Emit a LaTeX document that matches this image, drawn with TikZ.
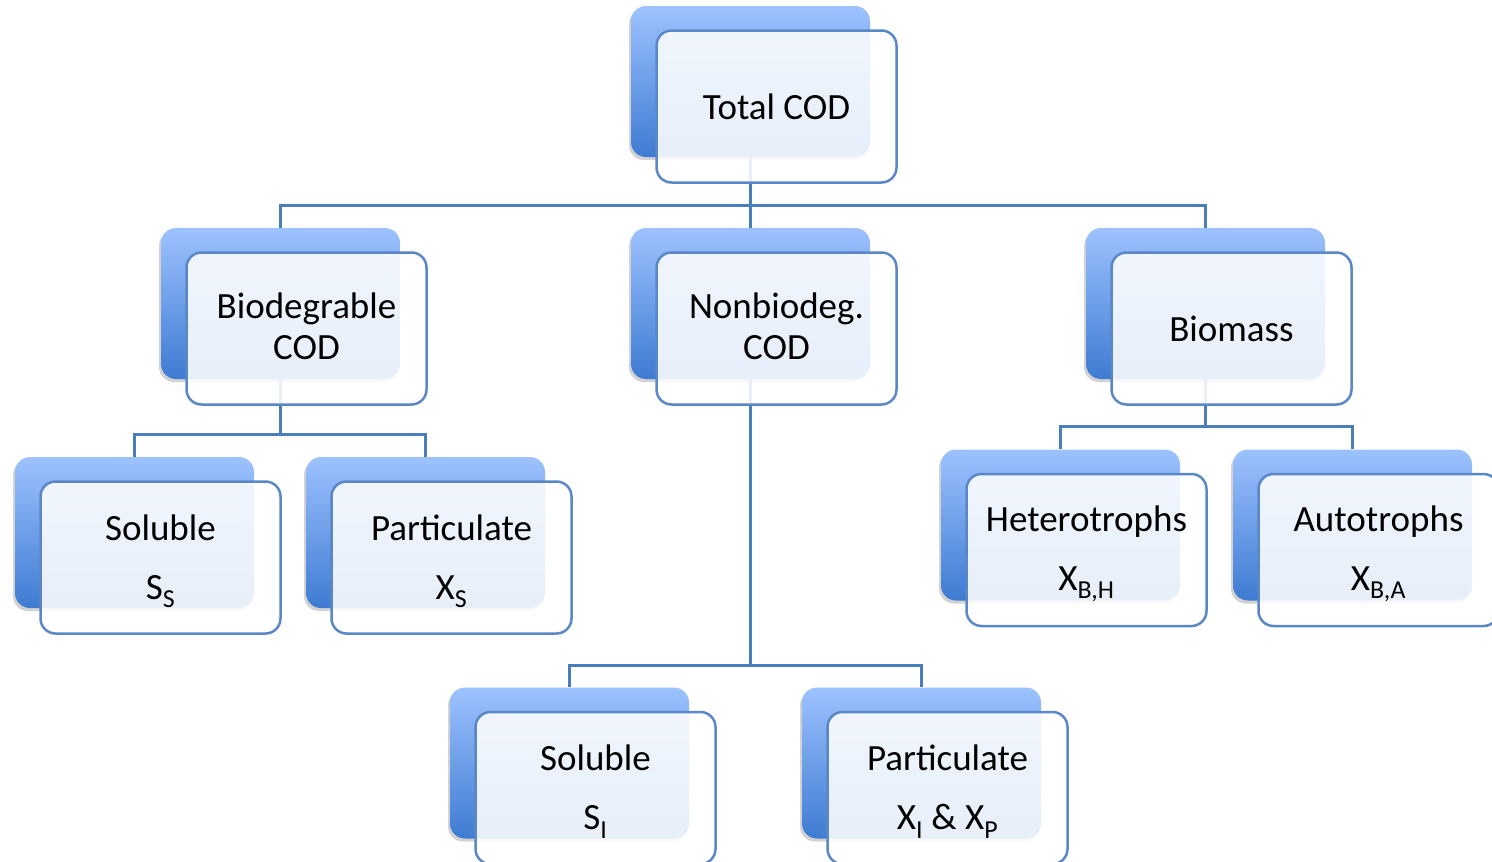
\documentclass[tikz,border=0pt]{standalone}
\usepackage{fontspec}
\setmainfont{Carlito}
\usetikzlibrary{shadows,backgrounds}
\definecolor{linec}{HTML}{4A7EBB}
\definecolor{framec}{HTML}{5A87C5}
\definecolor{backtop}{HTML}{9DC2FF}
\definecolor{backbot}{HTML}{3E7BD2}
\newcommand{\upstrut}{\rule{0pt}{33pt}}
\newcommand{\downstrut}{\rule[-4pt]{0pt}{4pt}}
\tikzset{
  backbox/.style={rectangle, rounded corners=15pt, minimum width=239pt, minimum height=151pt,
    inner sep=0pt, top color=backtop, bottom color=backbot, draw=none,
    drop shadow={shadow xshift=-2pt, shadow yshift=-3pt, opacity=0.25, fill=black!70}},
  frontbox/.style={rectangle, rounded corners=15pt, minimum width=240pt, minimum height=152pt,
    inner sep=0pt, draw=framec, line width=2.5pt, fill=white, fill opacity=0.88, text opacity=1,
    align=center, font=\fontsize{37}{41}\selectfont},
  conn/.style={draw=linec, line width=2.6pt}
}
\begin{document}
\begin{tikzpicture}[x=1pt,y=-1pt]
\useasboundingbox (0,0) rectangle (1492,862);
% back boxes
\node[backbox] (totb) at (750.5,81.5) {};
\node[backbox] (biob) at (280.5,303.5) {};
\node[backbox] (nonb) at (750.5,303.5) {};
\node[backbox] (bmb) at (1205.5,303.5) {};
\node[backbox] (sol1b) at (134.5,532.5) {};
\node[backbox] (par1b) at (425.5,532.5) {};
\node[backbox] (hetb) at (1060.5,525) {};
\node[backbox] (autb) at (1352.5,525) {};
\node[backbox] (sol2b) at (569.5,763) {};
\node[backbox] (par2b) at (921.5,763) {};
% connectors (behind the front boxes)
\draw[conn] (totb.south) -- ++(0,48) coordinate (hub) -| (biob.north);
\draw[conn] (hub) -| (bmb.north);
\draw[conn] (hub) -- (nonb.north);
\draw[conn] (biob.south) -- ++(0,55) coordinate (hub2) -| (sol1b.north);
\draw[conn] (hub2) -| (par1b.north);
\draw[conn] (nonb.south) -- ++(0,286) coordinate (hub3) -| (sol2b.north);
\draw[conn] (hub3) -| (par2b.north);
\draw[conn] (bmb.south) -- ++(0,47) coordinate (hub4) -| (hetb.north);
\draw[conn] (hub4) -| (autb.north);
% front boxes
\node[frontbox] (tot) at (776.5,106.5) {Total COD};
\node[frontbox] (bio) at (306.5,328.5) {Biodegrable\\COD\downstrut};
\node[frontbox] (non) at (776.5,328.5) {Nonbiodeg.\\COD\downstrut};
\node[frontbox] (bm) at (1231.5,328.5) {Biomass};
\node[frontbox] (sol1) at (160.5,557.5) {\upstrut Soluble\\[18pt]S\textsubscript{S}};
\node[frontbox] (par1) at (451.5,557.5) {\upstrut Particulate\\[18pt]X\textsubscript{S}};
\node[frontbox] (het) at (1086.5,550) {\upstrut Heterotrophs\\[18pt]X\textsubscript{B,H}};
\node[frontbox] (aut) at (1378.5,550) {\upstrut Autotrophs\\[18pt]X\textsubscript{B,A}};
\node[frontbox] (sol2) at (595.5,788) {\upstrut Soluble\\[18pt]S\textsubscript{I}};
\node[frontbox] (par2) at (947.5,788) {\upstrut Particulate\\[18pt]X\textsubscript{I} \& X\textsubscript{P}};
\end{tikzpicture}
\end{document}
